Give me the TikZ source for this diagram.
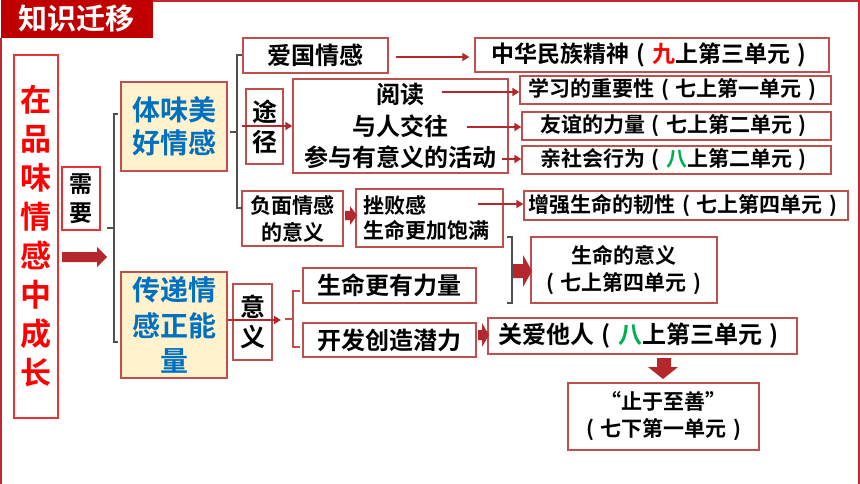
\documentclass[tikz,border=0pt]{standalone}
\usepackage{fontspec}
\setmainfont{Noto Sans CJK SC}[BoldFont={Noto Sans CJK SC Bold}]
\usetikzlibrary{arrows.meta}
\definecolor{framered}{RGB}{192,40,50}
\definecolor{titlered}{RGB}{192,0,0}
\definecolor{boxc}{RGB}{192,80,77}
\definecolor{brightred}{RGB}{230,50,50}
\definecolor{arrc}{RGB}{180,40,45}
\definecolor{fillY}{RGB}{255,242,204}
\definecolor{blueT}{RGB}{0,112,192}
\definecolor{greenT}{RGB}{0,176,80}
\definecolor{braceg}{RGB}{80,80,80}
\newcommand\fsz[2]{\fontsize{#1}{#2}\selectfont\bfseries}
\newcommand\lpar{\makebox[1em]{(}}
\newcommand\rpar{\makebox[1em]{)}}
\begin{document}
\begin{tikzpicture}[x=1pt,y=-1pt,
  box/.style={draw=boxc, line width=1.3pt, inner sep=0pt, align=center, fill=white},
  ybox/.style={box, fill=fillY, text=blueT},
  thinarr/.style={arrc, line width=2.6pt, -{Triangle[length=7pt,width=8pt]}},
  bracel/.style={braceg, line width=1.1pt},
  blk/.style={fill=arrc}]
\useasboundingbox (0,0) rectangle (860,484);
% frame
\draw[framered, line width=2.5pt] (152,1.2) -- (858.8,1.2) -- (858.8,484);
\draw[framered, line width=2.5pt] (1.2,38) -- (1.2,484);
\node[fill=titlered, text=white, inner sep=0pt, minimum width=152, minimum height=38, font=\fsz{29}{29}] (title) at (77,19) {知识迁移};

% left column
\node[box, draw=brightred, minimum width=44, minimum height=363, text=red, font=\fsz{31}{39}] (life) at (36,236.5) {在\\品\\味\\情\\感\\中\\成\\长};
\node[box, draw=brightred, minimum width=38, minimum height=63, font=\fsz{23}{29}] (need) at (81,198.5) {需\\要};
\node[ybox, minimum width=106, minimum height=89, font=\fsz{28}{33}] (tw) at (174,126.5) {体味美\\好情感};
\node[ybox, minimum width=106, minimum height=106, font=\fsz{28}{35.5}] (cd) at (174,325) {传递情\\感正能\\量};

% upper branch
\node[box, minimum width=145, minimum height=35, font=\fsz{24}{24}] (ag) at (315.5,55.5) {爱国情感};
\node[box, minimum width=354, minimum height=34, font=\fsz{23}{23}] (zh) at (652,55) {中华民族精神\lpar\textcolor{red}{九}上第三单元\rpar};
\node[box, minimum width=311, minimum height=28, font=\fsz{21}{21}] (xx) at (675.5,90) {学习的重要性\lpar 七上第一单元\rpar};
\node[box, minimum width=309, minimum height=28, font=\fsz{21}{21}] (yy) at (676.5,126) {友谊的力量\lpar 七上第二单元\rpar};
\node[box, minimum width=309, minimum height=28, font=\fsz{21}{21}] (qs) at (676.5,160) {亲社会行为\lpar\textcolor{greenT}{八}上第二单元\rpar};
\node[box, minimum width=37, minimum height=75, font=\fsz{25}{30}] (tj) at (264.5,126.5) {途\\径};
\node[box, minimum width=215, minimum height=94, font=\fsz{24}{31.5}] (yd) at (400.5,126) {阅读\\与人交往\\参与有意义的活动};
\node[box, minimum width=101, minimum height=55, font=\fsz{21}{27}] (fm) at (292.5,218.5) {负面情感\\的意义};
\node[box, text width=133pt, inner xsep=7pt, minimum height=58, align=left, font=\fsz{21}{25}] (cb) at (429.5,218) {挫败感\\生命更加饱满};
\node[box, minimum width=324, minimum height=29, font=\fsz{21}{21}] (zq) at (686,205.5) {增强生命的韧性\lpar 七上第四单元\rpar};
\node[box, minimum width=186, minimum height=66, font=\fsz{21}{27}] (smyy) at (624,270) {生命的意义\\\lpar 七上第四单元\rpar};

% lower branch
\node[box, minimum width=39, minimum height=76, font=\fsz{25}{30}] (yi) at (252.5,322) {意\\义};
\node[box, minimum width=173, minimum height=35, font=\fsz{24}{24}] (sml) at (389.5,285.5) {生命更有力量};
\node[box, minimum width=173, minimum height=34, font=\fsz{24}{24}] (kf) at (389.5,340) {开发创造潜力};
\node[box, minimum width=309, minimum height=36, font=\fsz{24}{24}] (ga) at (642.5,336) {关爱他人\lpar\textcolor{greenT}{八}上第三单元\rpar};
\node[box, minimum width=191, minimum height=67, font=\fsz{21}{27}] (zs) at (663.5,416.5) {“止于至善”\\\lpar 七下第一单元\rpar};

% braces
\draw[bracel] (118,114) -- (114,114) -- (114,342) -- (118,342);
\draw[bracel] (107,228) -- (114,228);
\draw[bracel] (242,55) -- (237,55) -- (237,208) -- (242,208);
\draw[bracel] (230,132) -- (237,132);
\draw[boxc, line width=1.1pt] (300,291) -- (293,291) -- (293,347) -- (300,347);
\draw[boxc, line width=1.1pt] (285,319) -- (293,319);
\draw[bracel] (507,237) -- (512,237) -- (512,303) -- (507,303);

% block arrows
\fill[blk] (62,252)--(97,252)--(97,247)--(107,257)--(97,267)--(97,262)--(62,262)--cycle;
\fill[blk] (345,211)--(350,211)--(350,206)--(357,215.5)--(350,225)--(350,220)--(345,220)--cycle;
\fill[blk] (513,264)--(523,264)--(523,255)--(532,271)--(523,287)--(523,278)--(513,278)--cycle;
\fill[blk] (478,330)--(482,330)--(482,323)--(489,335)--(482,347)--(482,340)--(478,340)--cycle;
\fill[blk] (657,358)--(671,358)--(671,367)--(678,367)--(663,379)--(648,367)--(657,367)--cycle;

% thin arrows
\coordinate (s0) at (396,57);
\coordinate (s1) at (442,92);
\coordinate (s2) at (467,127);
\coordinate (s3) at (502,159);
\coordinate (s4) at (478,204);
\coordinate (s5) at (242,126);
\coordinate (e6) at (281,320);
\draw[thinarr, shorten >=5pt] (s0) -- (s0 -| zh.west);
\draw[thinarr] (s1) -- (s1 -| xx.west);
\draw[thinarr] (s2) -- (s2 -| yy.west);
\draw[thinarr] (s3) -- (s3 -| qs.west);
\draw[thinarr] (s4) -- (s4 -| zq.west);
\draw[thinarr] (s5) -- (s5 -| yd.west);
\draw[thinarr] (cd.east |- e6) -- (e6);
\end{tikzpicture}
\end{document}
